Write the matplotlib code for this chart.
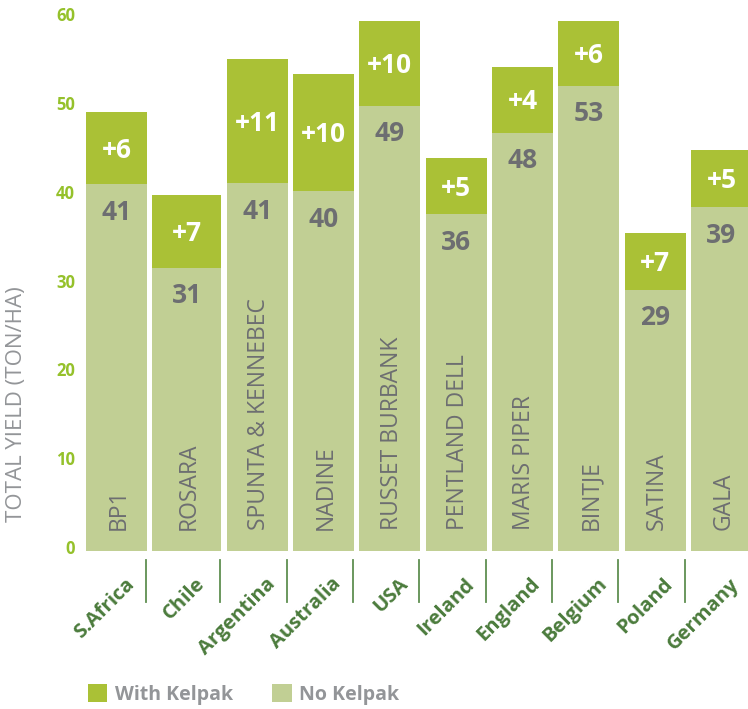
import numpy as np
import matplotlib
matplotlib.use("Agg")
import matplotlib.pyplot as plt
import matplotlib.transforms as mtransforms
from matplotlib.patches import Patch

# Data (bar heights as drawn, labels as printed)
countries = ["S.Africa", "Chile", "Argentina", "Australia", "USA",
             "Ireland", "England", "Belgium", "Poland", "Germany"]
varieties = ["BP1", "ROSARA", "SPUNTA & KENNEBEC", "NADINE", "RUSSET BURBANK",
             "PENTLAND DELL", "MARIS PIPER", "BINTJE", "SATINA", "GALA"]
no_kelpak = [41.3, 31.9, 41.4, 40.5, 50.1, 37.9, 47.1, 52.4, 29.4, 38.7]
with_kelpak = [49.4, 40.1, 55.4, 53.7, 59.7, 44.3, 54.5, 59.7, 35.8, 45.2]
base_labels = [41, 31, 41, 40, 49, 36, 48, 53, 29, 39]
gain_labels = [6, 7, 11, 10, 10, 5, 4, 6, 7, 5]
yticks = [0, 10, 20, 30, 40, 50, 60]

GREEN = "#aac136"
LIGHT = "#c1cf94"
GREY_TXT = "#6d6e71"
LEGEND_TXT = "#939598"
TICK_GREEN = "#95c12b"
COUNTRY_GREEN = "#4b7b3c"

plt.rcParams['font.family'] = ['Open Sans', 'DejaVu Sans']

fig = plt.figure(figsize=(7.48, 7.09), dpi=100)
ax = fig.add_axes([86 / 748, 158 / 709, 662 / 748, 551 / 709])

# bar geometry (Chile's bar is drawn a little wider in the original)
n = len(countries)
widths = np.full(n, 61.0)
widths[1] = 69.0
gap = 5.33
lefts = np.concatenate([[0.0], np.cumsum(widths + gap)[:-1]])
centers = lefts + widths / 2

base = np.array(no_kelpak)
top = np.array(with_kelpak)
ax.bar(lefts, base, width=widths, align="edge", color=LIGHT, linewidth=0)
ax.bar(lefts, top - base, bottom=base, width=widths, align="edge",
       color=GREEN, linewidth=0)

ax.set_xlim(0, 662)
ax.set_ylim(0, 62.05)

for i in range(n):
    # no-kelpak value
    ax.annotate(str(base_labels[i]), (centers[i], base[i]), xytext=(0, -20),
                textcoords="offset points", ha="center", va="center",
                fontsize=19, fontweight="bold", color=GREY_TXT)
    # kelpak gain
    ax.annotate(f"+{gain_labels[i]}", (centers[i], (base[i] + top[i]) / 2),
                xytext=(0, -1.5), textcoords="offset points", ha="center",
                va="center", fontsize=19, fontweight="bold", color="white")
    # variety name inside the bar
    ax.text(centers[i] + 2, 2.4, varieties[i], rotation=90, ha="center",
            va="bottom", fontsize=16.5, color=GREY_TXT)
    # country under the bar
    ax.text(centers[i] + 15, -3.4, countries[i], rotation=45, ha="right",
            va="center", rotation_mode="anchor", fontsize=14.5,
            fontweight="bold", color=COUNTRY_GREEN, clip_on=False)
    # separator between countries
    if i < n - 1:
        xs = lefts[i] + widths[i] - 1
        ax.plot([xs, xs], [-1.0, -5.74], color="#5f8f50", linewidth=1.3,
                clip_on=False)

# axes styling
for s in ax.spines.values():
    s.set_visible(False)
ax.set_xticks([])
ax.set_yticks(yticks)
ax.tick_params(axis="y", length=0, pad=8, labelsize=12, labelcolor=TICK_GREEN)
for lbl in ax.get_yticklabels():
    lbl.set_fontweight("bold")
    lbl.set_transform(lbl.get_transform() +
                      mtransforms.ScaledTranslation(0, 4 / 100, fig.dpi_scale_trans))

fig.text(17 / 748, 1 - 404 / 709, "TOTAL YIELD (TON/HA)", rotation=90,
         ha="center", va="center", fontsize=16, color=LEGEND_TXT)

handles = [Patch(facecolor=GREEN, edgecolor="none"),
           Patch(facecolor=LIGHT, edgecolor="none")]
fig.legend(handles, ["With Kelpak", "No Kelpak"], loc="center left",
           bbox_to_anchor=(88 / 748, 1 - 694.5 / 709), ncol=2, frameon=False,
           borderpad=0, borderaxespad=0, handlelength=1.0, handleheight=1.0,
           handletextpad=0.4, columnspacing=2.0,
           prop={"size": 14, "weight": "bold"}, labelcolor=LEGEND_TXT)

fig.savefig("out.png", dpi=100)
